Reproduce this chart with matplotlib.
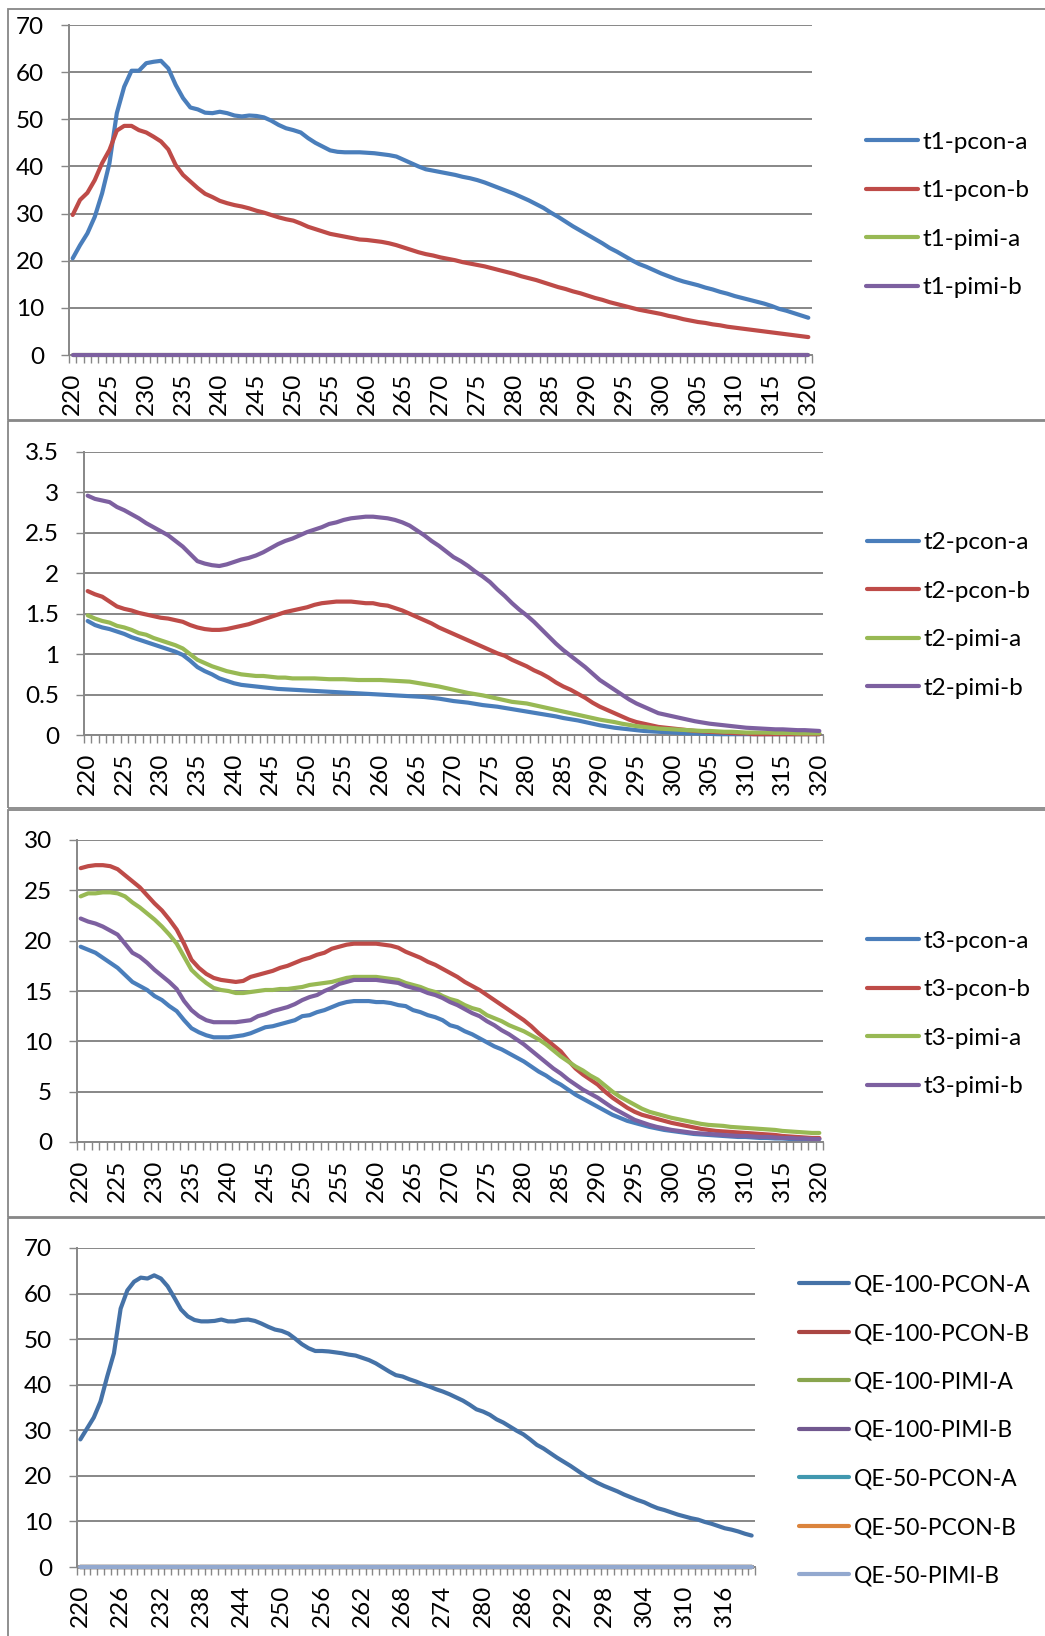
import numpy as np
import matplotlib
matplotlib.use("Agg")
import matplotlib.pyplot as plt
from matplotlib.patches import Rectangle

plt.rcParams['font.family'] = ['Lato', 'DejaVu Sans']

# ---------------- data ----------------
wavelengths = list(range(220, 321))

t1_labels = ["t1-pcon-a", "t1-pcon-b", "t1-pimi-a", "t1-pimi-b"]
t1_pcon_a = [20.5, 23.3, 25.8, 29.3, 34.3, 40.7, 51.3, 56.9, 60.3, 60.3,
             61.9, 62.2, 62.4, 60.8, 57.3, 54.5, 52.5, 52.1, 51.4, 51.3,
             51.6, 51.3, 50.8, 50.6, 50.8, 50.7, 50.4, 49.7, 48.8, 48.1,
             47.7, 47.2, 46.0, 45.0, 44.2, 43.4, 43.1, 43.0, 43.0, 43.0,
             42.9, 42.8, 42.6, 42.4, 42.1, 41.4, 40.7, 40.0, 39.4, 39.1,
             38.8, 38.5, 38.2, 37.8, 37.5, 37.1, 36.6, 36.0, 35.4, 34.8,
             34.2, 33.5, 32.8, 32.0, 31.2, 30.2, 29.3, 28.3, 27.3, 26.4,
             25.5, 24.6, 23.7, 22.7, 21.9, 21.0, 20.1, 19.3, 18.7, 18.0,
             17.3, 16.7, 16.1, 15.6, 15.2, 14.8, 14.3, 13.9, 13.4, 13.0,
             12.5, 12.1, 11.7, 11.3, 10.9, 10.4, 9.8, 9.4, 8.9, 8.4, 7.9]
t1_pcon_b = [29.7, 32.9, 34.4, 37.1, 40.7, 43.5, 47.6, 48.6, 48.6, 47.7,
             47.2, 46.3, 45.3, 43.6, 40.3, 38.2, 36.8, 35.4, 34.2, 33.5,
             32.7, 32.2, 31.8, 31.5, 31.1, 30.6, 30.2, 29.7, 29.2, 28.8,
             28.5, 27.9, 27.2, 26.7, 26.2, 25.7, 25.4, 25.1, 24.8, 24.5,
             24.4, 24.2, 24.0, 23.7, 23.3, 22.8, 22.3, 21.8, 21.4, 21.1,
             20.7, 20.4, 20.1, 19.7, 19.4, 19.1, 18.8, 18.4, 18.0, 17.6,
             17.2, 16.7, 16.3, 15.9, 15.4, 14.9, 14.4, 14.0, 13.5, 13.1,
             12.6, 12.1, 11.7, 11.2, 10.8, 10.4, 10.0, 9.6, 9.3, 9.0,
             8.7, 8.3, 8.0, 7.6, 7.3, 7.0, 6.8, 6.5, 6.3, 6.0,
             5.8, 5.6, 5.4, 5.2, 5.0, 4.8, 4.6, 4.4, 4.2, 4.0, 3.8]
t1_pimi_a = [0.0] * 101
t1_pimi_b = [0.0] * 101

t2_labels = ["t2-pcon-a", "t2-pcon-b", "t2-pimi-a", "t2-pimi-b"]
t2_pcon_a = [1.41, 1.36, 1.33, 1.31, 1.28, 1.25, 1.21, 1.18, 1.15, 1.12,
             1.09, 1.06, 1.03, 0.99, 0.92, 0.84, 0.79, 0.75, 0.70, 0.67,
             0.64, 0.62, 0.61, 0.60, 0.59, 0.58, 0.57, 0.565, 0.56, 0.555,
             0.55, 0.545, 0.54, 0.535, 0.53, 0.525, 0.52, 0.515, 0.51, 0.505,
             0.50, 0.495, 0.49, 0.485, 0.48, 0.475, 0.47, 0.46, 0.45, 0.435,
             0.42, 0.41, 0.40, 0.385, 0.37, 0.36, 0.35, 0.335, 0.32, 0.305,
             0.29, 0.275, 0.26, 0.245, 0.23, 0.21, 0.195, 0.18, 0.16, 0.14,
             0.12, 0.105, 0.09, 0.08, 0.07, 0.06, 0.05, 0.045, 0.04, 0.035,
             0.03, 0.025, 0.02, 0.02, 0.015, 0.015, 0.01, 0.01, 0.01, 0.01,
             0.01, 0.01, 0.01, 0.01, 0.01, 0.01, 0.01, 0.01, 0.01, 0.01, 0.01]
t2_pcon_b = [1.78, 1.74, 1.71, 1.65, 1.59, 1.56, 1.54, 1.51, 1.49, 1.47,
             1.45, 1.44, 1.42, 1.40, 1.36, 1.33, 1.31, 1.30, 1.30, 1.31,
             1.33, 1.35, 1.37, 1.40, 1.43, 1.46, 1.49, 1.52, 1.54, 1.56,
             1.58, 1.61, 1.63, 1.64, 1.65, 1.65, 1.65, 1.64, 1.63, 1.63,
             1.61, 1.60, 1.57, 1.54, 1.50, 1.46, 1.42, 1.38, 1.33, 1.29,
             1.25, 1.21, 1.17, 1.13, 1.09, 1.05, 1.01, 0.98, 0.93, 0.89,
             0.85, 0.80, 0.76, 0.71, 0.65, 0.60, 0.56, 0.51, 0.46, 0.40,
             0.35, 0.31, 0.27, 0.23, 0.19, 0.16, 0.14, 0.12, 0.10, 0.09,
             0.08, 0.07, 0.06, 0.05, 0.045, 0.04, 0.035, 0.03, 0.025, 0.02,
             0.02, 0.01, 0.01, 0.01, 0.01, 0.01, 0.01, 0.01, 0.01, 0.01, 0.01]
t2_pimi_a = [1.48, 1.44, 1.41, 1.39, 1.35, 1.33, 1.30, 1.26, 1.24, 1.20,
             1.17, 1.14, 1.11, 1.07, 1.00, 0.93, 0.89, 0.85, 0.82, 0.79,
             0.77, 0.75, 0.74, 0.73, 0.73, 0.72, 0.71, 0.71, 0.70, 0.70,
             0.70, 0.70, 0.695, 0.69, 0.69, 0.69, 0.685, 0.68, 0.68, 0.68,
             0.68, 0.675, 0.67, 0.665, 0.66, 0.645, 0.63, 0.615, 0.60, 0.58,
             0.56, 0.54, 0.52, 0.505, 0.49, 0.47, 0.45, 0.43, 0.41, 0.40,
             0.39, 0.37, 0.35, 0.33, 0.31, 0.29, 0.27, 0.25, 0.23, 0.21,
             0.19, 0.175, 0.16, 0.14, 0.125, 0.11, 0.10, 0.09, 0.08, 0.075,
             0.07, 0.065, 0.06, 0.055, 0.05, 0.05, 0.045, 0.04, 0.04, 0.035,
             0.03, 0.03, 0.03, 0.03, 0.025, 0.025, 0.025, 0.02, 0.02, 0.02, 0.02]
t2_pimi_b = [2.96, 2.92, 2.90, 2.88, 2.82, 2.78, 2.73, 2.68, 2.62, 2.57,
             2.52, 2.47, 2.40, 2.33, 2.24, 2.15, 2.12, 2.10, 2.09, 2.11,
             2.14, 2.17, 2.19, 2.22, 2.26, 2.31, 2.36, 2.40, 2.43, 2.47,
             2.51, 2.54, 2.57, 2.61, 2.63, 2.66, 2.68, 2.69, 2.70, 2.70,
             2.69, 2.68, 2.66, 2.63, 2.59, 2.53, 2.47, 2.40, 2.34, 2.27,
             2.20, 2.15, 2.09, 2.02, 1.96, 1.89, 1.80, 1.72, 1.63, 1.55,
             1.48, 1.40, 1.31, 1.22, 1.13, 1.05, 0.98, 0.91, 0.84, 0.76,
             0.68, 0.62, 0.56, 0.50, 0.44, 0.39, 0.35, 0.31, 0.27, 0.25,
             0.23, 0.21, 0.19, 0.17, 0.155, 0.14, 0.13, 0.12, 0.11, 0.10,
             0.09, 0.085, 0.08, 0.075, 0.07, 0.07, 0.065, 0.06, 0.06, 0.055, 0.05]

t3_labels = ["t3-pcon-a", "t3-pcon-b", "t3-pimi-a", "t3-pimi-b"]
t3_pcon_a = [19.4, 19.1, 18.8, 18.3, 17.8, 17.3, 16.6, 15.9, 15.5, 15.1,
             14.5, 14.1, 13.5, 13.0, 12.1, 11.3, 10.9, 10.6, 10.4, 10.4,
             10.4, 10.5, 10.6, 10.8, 11.1, 11.4, 11.5, 11.7, 11.9, 12.1,
             12.5, 12.6, 12.9, 13.1, 13.4, 13.7, 13.9, 14.0, 14.0, 14.0,
             13.9, 13.9, 13.8, 13.6, 13.5, 13.1, 12.9, 12.6, 12.4, 12.1,
             11.6, 11.4, 11.0, 10.7, 10.3, 9.9, 9.5, 9.2, 8.8, 8.4,
             8.0, 7.5, 7.0, 6.6, 6.1, 5.7, 5.2, 4.7, 4.3, 3.9,
             3.5, 3.1, 2.7, 2.4, 2.1, 1.9, 1.7, 1.5, 1.35, 1.2,
             1.1, 1.0, 0.9, 0.8, 0.75, 0.7, 0.65, 0.6, 0.55, 0.5,
             0.5, 0.45, 0.4, 0.4, 0.35, 0.35, 0.3, 0.3, 0.3, 0.3, 0.3]
t3_pcon_b = [27.2, 27.4, 27.5, 27.5, 27.4, 27.1, 26.5, 25.9, 25.3, 24.5,
             23.7, 23.0, 22.1, 21.1, 19.7, 18.1, 17.3, 16.7, 16.3, 16.1,
             16.0, 15.9, 16.0, 16.4, 16.6, 16.8, 17.0, 17.3, 17.5, 17.8,
             18.1, 18.3, 18.6, 18.8, 19.2, 19.4, 19.6, 19.7, 19.7, 19.7,
             19.7, 19.6, 19.5, 19.3, 18.9, 18.6, 18.3, 17.9, 17.6, 17.2,
             16.8, 16.4, 15.9, 15.5, 15.1, 14.6, 14.1, 13.6, 13.1, 12.6,
             12.1, 11.5, 10.8, 10.2, 9.6, 9.0, 8.1, 7.3, 6.7, 6.2,
             5.7, 5.0, 4.4, 3.9, 3.4, 3.0, 2.7, 2.5, 2.3, 2.1,
             1.9, 1.75, 1.6, 1.45, 1.3, 1.2, 1.1, 1.05, 1.0, 0.95,
             0.9, 0.85, 0.8, 0.75, 0.7, 0.6, 0.55, 0.5, 0.45, 0.4, 0.4]
t3_pimi_a = [24.4, 24.7, 24.7, 24.8, 24.8, 24.7, 24.4, 23.8, 23.3, 22.7,
             22.1, 21.4, 20.6, 19.7, 18.4, 17.1, 16.4, 15.8, 15.3, 15.1,
             15.0, 14.8, 14.8, 14.9, 15.0, 15.1, 15.1, 15.2, 15.2, 15.3,
             15.4, 15.6, 15.7, 15.8, 15.9, 16.1, 16.3, 16.4, 16.4, 16.4,
             16.4, 16.3, 16.2, 16.1, 15.8, 15.6, 15.4, 15.1, 14.9, 14.5,
             14.2, 14.0, 13.6, 13.3, 13.1, 12.6, 12.3, 12.0, 11.6, 11.3,
             11.0, 10.6, 10.2, 9.7, 9.1, 8.5, 8.0, 7.5, 7.1, 6.6,
             6.2, 5.6, 5.0, 4.5, 4.1, 3.7, 3.3, 3.0, 2.8, 2.6,
             2.4, 2.25, 2.1, 1.95, 1.8, 1.7, 1.65, 1.6, 1.5, 1.45,
             1.4, 1.35, 1.3, 1.25, 1.2, 1.1, 1.05, 1.0, 0.95, 0.9, 0.9]
t3_pimi_b = [22.2, 21.9, 21.7, 21.4, 21.0, 20.6, 19.7, 18.8, 18.4, 17.8,
             17.1, 16.5, 15.9, 15.2, 14.0, 13.1, 12.5, 12.1, 11.9, 11.9,
             11.9, 11.9, 12.0, 12.1, 12.5, 12.7, 13.0, 13.2, 13.4, 13.7,
             14.1, 14.4, 14.6, 15.0, 15.3, 15.7, 15.9, 16.1, 16.1, 16.1,
             16.1, 16.0, 15.9, 15.8, 15.5, 15.3, 15.1, 14.8, 14.6, 14.3,
             13.9, 13.6, 13.2, 12.8, 12.5, 12.0, 11.6, 11.1, 10.7, 10.2,
             9.7, 9.1, 8.5, 7.9, 7.3, 6.8, 6.2, 5.7, 5.2, 4.8,
             4.4, 3.9, 3.4, 3.0, 2.6, 2.2, 1.95, 1.7, 1.5, 1.35,
             1.2, 1.1, 1.0, 0.9, 0.85, 0.8, 0.75, 0.7, 0.65, 0.6,
             0.6, 0.55, 0.5, 0.5, 0.45, 0.4, 0.4, 0.35, 0.35, 0.3, 0.3]

qe_labels = ["QE-100-PCON-A", "QE-100-PCON-B", "QE-100-PIMI-A", "QE-100-PIMI-B",
             "QE-50-PCON-A", "QE-50-PCON-B", "QE-50-PIMI-B"]
qe100_pcon_a = [28.0, 30.4, 32.8, 36.3, 41.8, 46.9, 56.7, 60.7, 62.6, 63.5,
                63.3, 64.0, 63.3, 61.6, 59.1, 56.5, 55.0, 54.2, 53.9, 53.9,
                54.0, 54.3, 53.9, 53.9, 54.2, 54.3, 54.0, 53.4, 52.7, 52.1,
                51.8, 51.2, 50.1, 48.9, 48.0, 47.4, 47.4, 47.3, 47.1, 46.9,
                46.6, 46.4, 45.9, 45.4, 44.7, 43.8, 42.9, 42.1, 41.8, 41.2,
                40.7, 40.1, 39.6, 39.0, 38.5, 37.9, 37.2, 36.5, 35.6, 34.6,
                34.1, 33.4, 32.4, 31.7, 30.8, 29.9, 29.1, 28.0, 26.8, 26.0,
                25.0, 24.0, 23.1, 22.2, 21.2, 20.2, 19.3, 18.5, 17.8, 17.2,
                16.6, 15.9, 15.3, 14.7, 14.2, 13.5, 12.9, 12.5, 12.0, 11.5,
                11.1, 10.7, 10.4, 9.9, 9.5, 9.0, 8.5, 8.2, 7.8, 7.3, 6.9]
qe100_pcon_b = [0.0] * 101
qe100_pimi_a = [0.0] * 101
qe100_pimi_b = [0.0] * 101
qe50_pcon_a = [0.0] * 101
qe50_pcon_b = [0.0] * 101
qe50_pimi_b = [0.0] * 101

# ---------------- styling ----------------
W, H = 1045, 1636
DPI = 100
GRAY = '#878787'
C2010 = ['#4A7EBB', '#BE4B48', '#98B954', '#7D60A0']
C2007 = ['#4572A7', '#AA4643', '#89A54E', '#71588F', '#4198AF', '#DB843D', '#93A9CF']
FS = 17.5
LW = 3.0

fig = plt.figure(figsize=(W / DPI, H / DPI), dpi=DPI)


def fx(px):
    return px / W


def fy(py):
    return 1 - py / H


# panel frames
for (y0, y1) in [(9, 420), (421, 808), (810, 1217), (1218, 1700)]:
    fig.add_artist(Rectangle((fx(8), fy(y1)), fx(1200) - fx(8), fy(y0) - fy(y1),
                             transform=fig.transFigure, fill=False,
                             edgecolor=GRAY, linewidth=1.3, clip_on=False))


def make_panel(box, ymax, ystep, series, labels, colors, label_step, legend_pos,
               handlelen, legend_fs=FS, spacing=1.13):
    left, right, top, bottom = box
    ax = fig.add_axes([fx(left), fy(bottom), fx(right) - fx(left), fy(top) - fy(bottom)])
    x = np.arange(len(wavelengths))
    for s, lab, c in zip(series, labels, colors):
        ax.plot(x, s, color=c, lw=LW, label=lab, solid_capstyle='round',
                solid_joinstyle='round', clip_on=False, zorder=3)
    ax.set_xlim(-0.5, len(wavelengths) - 0.5)
    ax.set_ylim(0, ymax)
    yt = np.arange(0, ymax + ystep / 2, ystep)
    ax.set_yticks(yt)
    ax.set_yticklabels([('%g' % v) for v in yt])
    major = list(range(0, len(wavelengths), label_step))
    ax.set_xticks(major)
    ax.set_xticklabels([str(wavelengths[i]) for i in major], rotation=90)
    ax.set_xticks(np.arange(-0.5, len(wavelengths), 1.0), minor=True)
    ax.tick_params(axis='x', which='major', length=0, pad=13, labelsize=FS)
    ax.tick_params(axis='x', which='minor', length=5.8, width=1.0, color=GRAY,
                   direction='out')
    ax.tick_params(axis='y', which='major', length=5.8, width=1.0, color=GRAY,
                   pad=12, labelsize=FS)
    ax.yaxis.grid(True, color=GRAY, lw=1.4)
    ax.set_axisbelow(True)
    for sp in ['top', 'right']:
        ax.spines[sp].set_visible(False)
    for sp in ['left', 'bottom']:
        ax.spines[sp].set_color(GRAY)
        ax.spines[sp].set_linewidth(1.4)
    lx, ly = legend_pos
    ax.legend(loc='center left', bbox_to_anchor=(fx(lx), fy(ly)),
              bbox_transform=fig.transFigure, frameon=False, fontsize=legend_fs,
              borderpad=0, borderaxespad=0, handlelength=handlelen,
              handletextpad=0.2, labelspacing=spacing)
    return ax


make_panel((69, 812, 25, 355), 70, 10,
           [t1_pcon_a, t1_pcon_b, t1_pimi_a, t1_pimi_b], t1_labels, C2010, 5,
           (866, 215), 2.12)
make_panel((84, 823, 452, 735), 3.5, 0.5,
           [t2_pcon_a, t2_pcon_b, t2_pimi_a, t2_pimi_b], t2_labels, C2010, 5,
           (867, 615.5), 2.12)
make_panel((77, 823, 840, 1142), 30, 5,
           [t3_pcon_a, t3_pcon_b, t3_pimi_a, t3_pimi_b], t3_labels, C2010, 5,
           (867, 1014), 2.12)
make_panel((77, 755, 1248, 1567), 70, 10,
           [qe100_pcon_a, qe100_pcon_b, qe100_pimi_a, qe100_pimi_b,
            qe50_pcon_a, qe50_pcon_b, qe50_pimi_b], qe_labels, C2007, 6,
           (799, 1430.5), 2.2, legend_fs=16.5, spacing=1.2)

fig.savefig('out.png', dpi=DPI)
